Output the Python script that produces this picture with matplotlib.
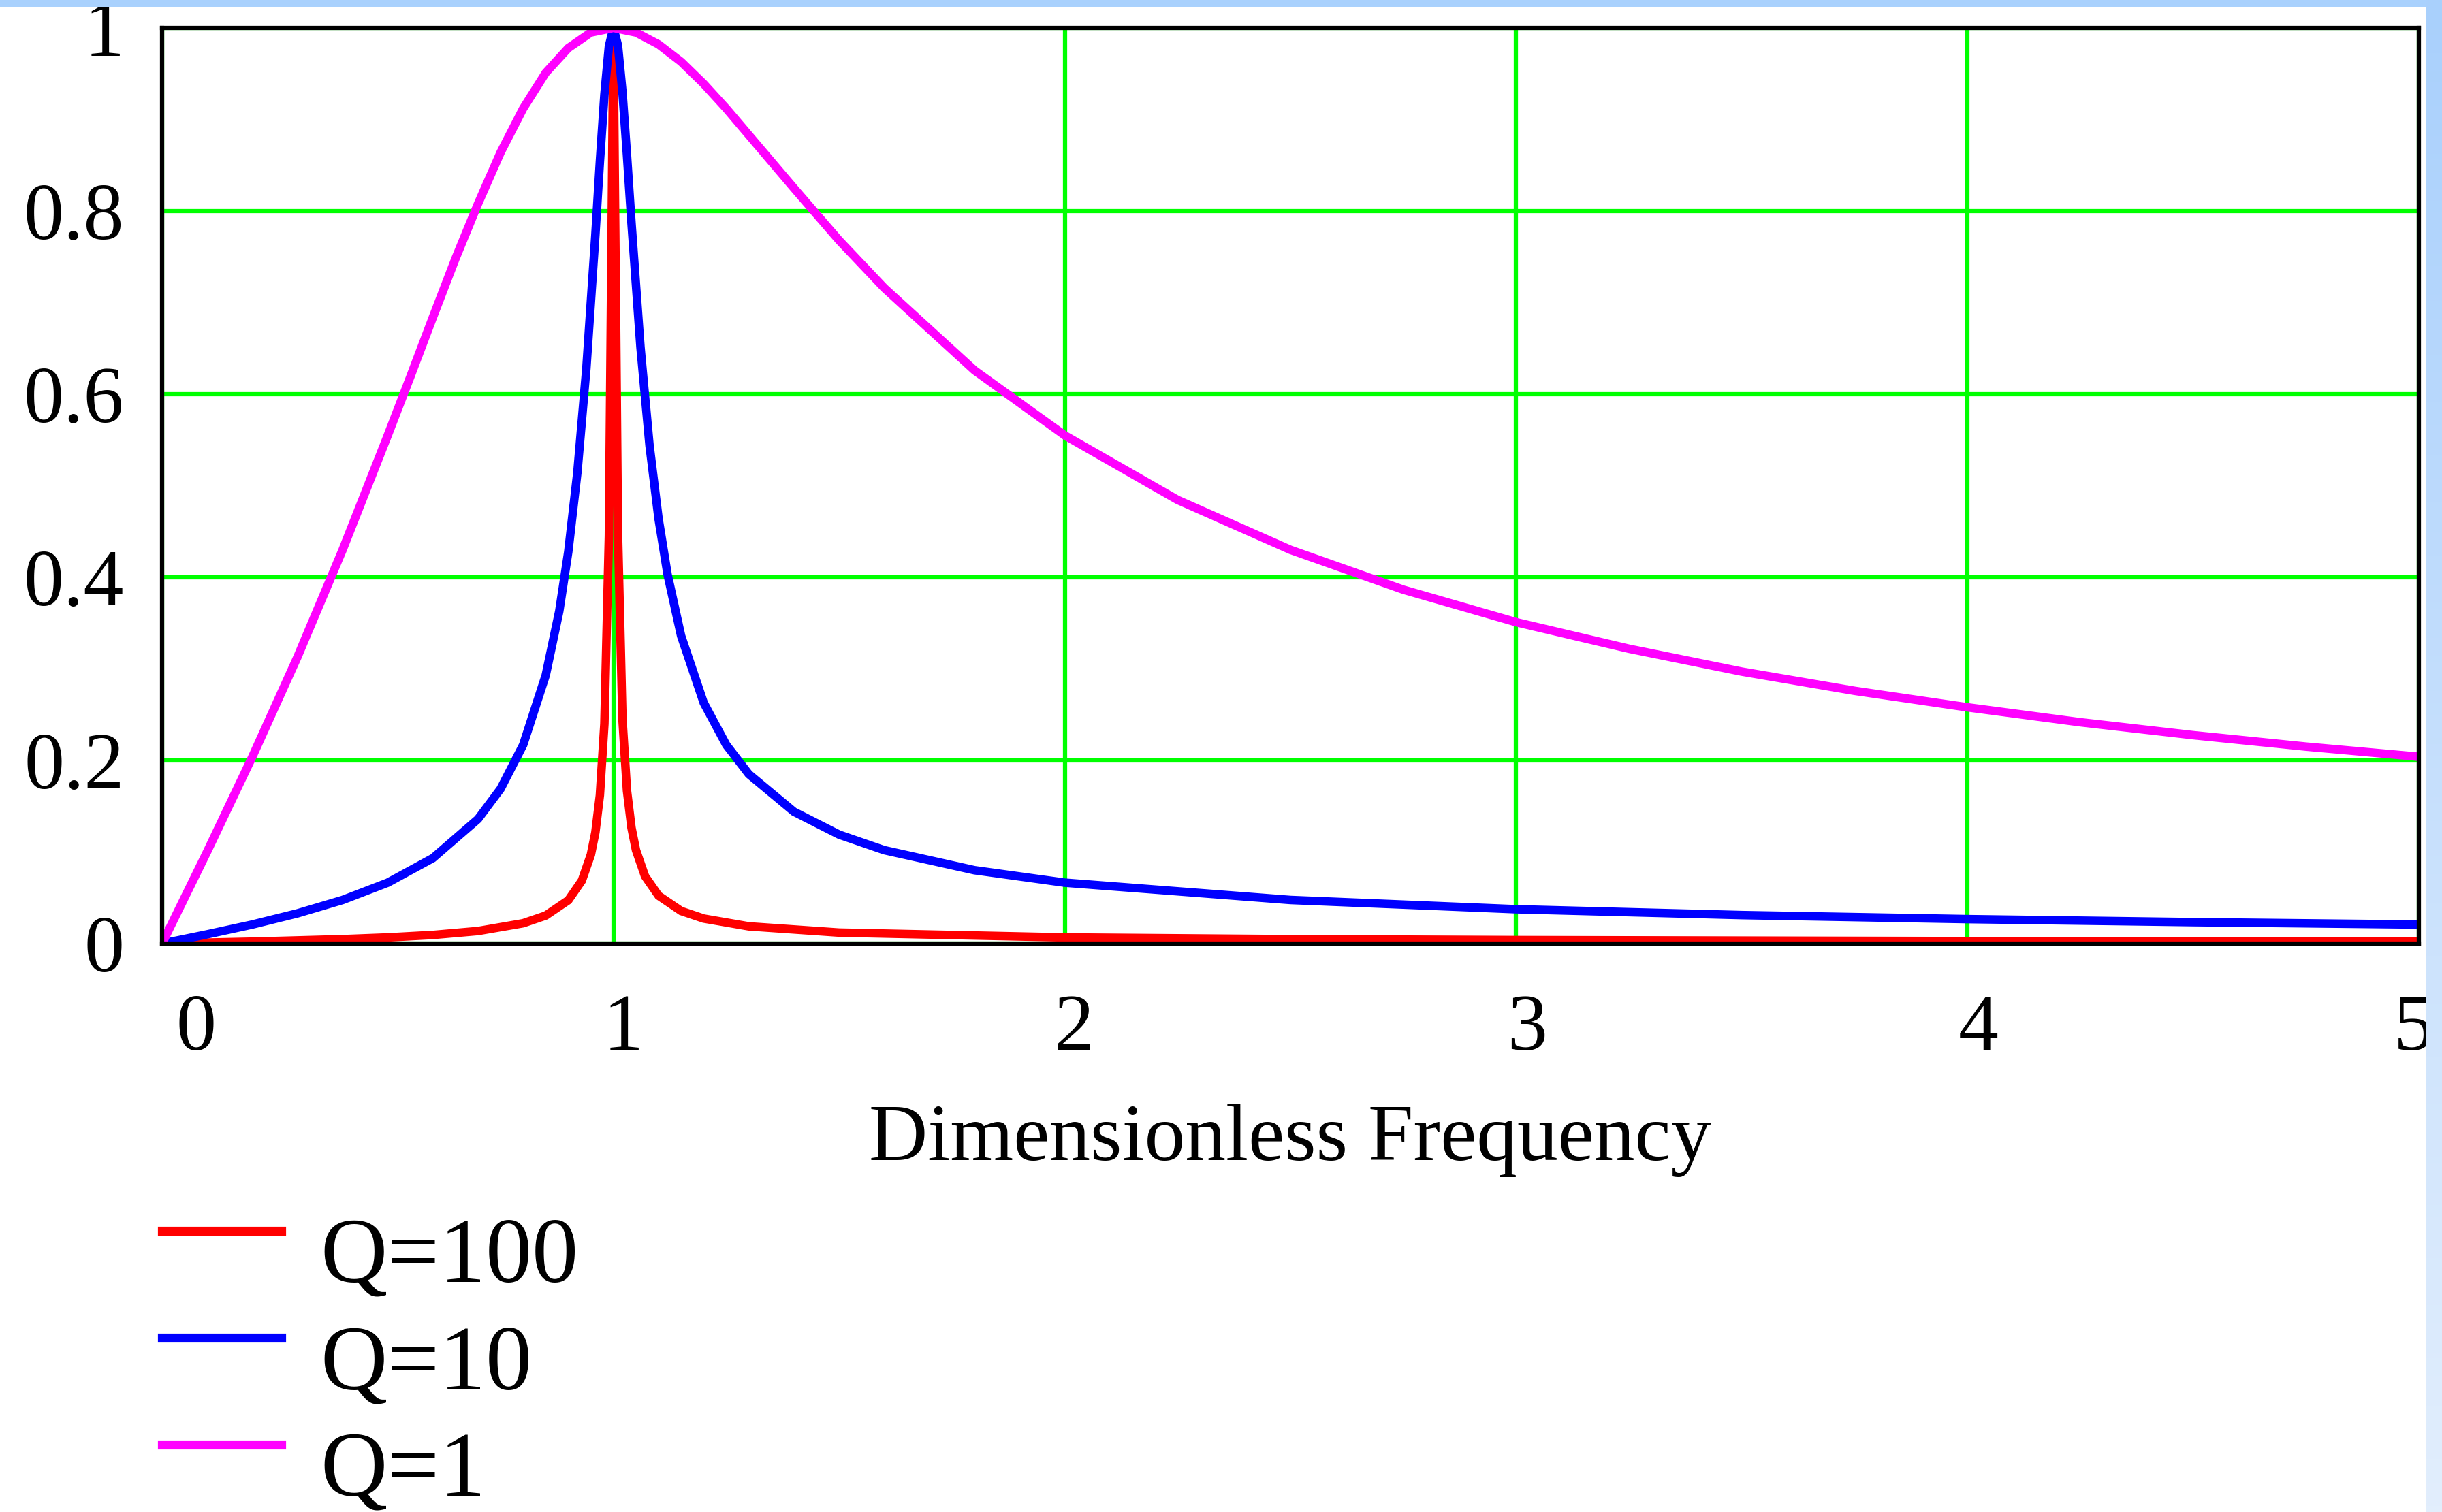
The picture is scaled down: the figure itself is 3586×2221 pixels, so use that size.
import matplotlib
matplotlib.use("Agg")
import matplotlib.pyplot as plt
import numpy as np
from matplotlib.lines import Line2D

plt.rcParams['font.family'] = ['Liberation Serif', 'DejaVu Serif']

# Resonance curves, amplitude vs dimensionless frequency
freq_q100 = [0, 0.2, 0.4, 0.5, 0.6, 0.7, 0.8, 0.85, 0.9, 0.93, 0.95, 0.96, 0.97,
             0.98, 0.99, 1.0, 1.01, 1.02, 1.03, 1.04, 1.05, 1.07, 1.1, 1.15, 1.2,
             1.3, 1.5, 2.0, 2.5, 3.0, 4.0, 5.0]
amp_q100 = [0, 0.0021, 0.0048, 0.0067, 0.0094, 0.0137, 0.0222, 0.0306, 0.0473,
            0.0687, 0.097, 0.1215, 0.162, 0.240, 0.445, 1.0, 0.449, 0.245, 0.167,
            0.1265, 0.102, 0.0736, 0.0523, 0.0356, 0.0273, 0.0188, 0.012, 0.0067,
            0.0048, 0.0038, 0.0027, 0.0021]

freq_q10 = [0, 0.1, 0.2, 0.3, 0.4, 0.5, 0.6, 0.7, 0.75, 0.8, 0.85, 0.88, 0.9,
            0.92, 0.94, 0.96, 0.97, 0.98, 0.99, 1.0, 1.01, 1.02, 1.03, 1.04, 1.06,
            1.08, 1.1, 1.12, 1.15, 1.2, 1.25, 1.3, 1.4, 1.5, 1.6, 1.8, 2.0, 2.5,
            3.0, 3.5, 4.0, 4.5, 5.0]
amp_q10 = [0, 0.0101, 0.0208, 0.033, 0.0476, 0.0665, 0.0933, 0.136, 0.169, 0.217,
           0.293, 0.363, 0.428, 0.514, 0.628, 0.774, 0.854, 0.927, 0.980, 1.0,
           0.981, 0.930, 0.861, 0.787, 0.651, 0.544, 0.464, 0.403, 0.336, 0.263,
           0.217, 0.185, 0.144, 0.119, 0.102, 0.0801, 0.0665, 0.0476, 0.0375,
           0.0311, 0.0267, 0.0234, 0.0208]

freq_q1 = [0, 0.1, 0.2, 0.3, 0.4, 0.5, 0.55, 0.6, 0.65, 0.7, 0.75, 0.8, 0.85,
           0.9, 0.95, 1.0, 1.05, 1.1, 1.15, 1.2, 1.25, 1.3, 1.4, 1.5, 1.6, 1.8,
           2.0, 2.25, 2.5, 2.75, 3.0, 3.25, 3.5, 3.75, 4.0, 4.25, 4.5, 4.75, 5.0]
amp_q1 = [0, 0.1005, 0.204, 0.313, 0.430, 0.555, 0.619, 0.684, 0.748, 0.808,
          0.864, 0.912, 0.951, 0.978, 0.995, 1.0, 0.995, 0.982, 0.963, 0.939,
          0.912, 0.883, 0.825, 0.768, 0.716, 0.626, 0.555, 0.4845, 0.430, 0.3865,
          0.351, 0.322, 0.297, 0.276, 0.258, 0.2417, 0.2276, 0.2151, 0.204]

labels = ['Q=100', 'Q=10', 'Q=1']
colors = ['#ff0000', '#0000ff', '#ff00ff']

xticks = [0, 1, 2, 3, 4, 5]
xtick_labels = ['0', '1', '2', '3', '4', '5']
yticks = [0, 0.2, 0.4, 0.6, 0.8, 1]
ytick_labels = ['0', '0.2', '0.4', '0.6', '0.8', '1']

W, H = 3586, 2221
fig = plt.figure(figsize=(W / 100, H / 100), dpi=100)
fig.patch.set_facecolor('white')

ax = fig.add_axes([238 / W, 1 - 1386 / H, (3552 - 238) / W, (1386 - 41) / H])

series = [(freq_q100, amp_q100), (freq_q10, amp_q10), (freq_q1, amp_q1)]
for (fx, fy), c, lab in zip(series, colors, labels):
    ax.plot(fx, fy, color=c, lw=9, label=lab, solid_joinstyle='miter')

ax.set_xlim(0, 5)
ax.set_ylim(0, 1)
ax.set_xticks(xticks)
ax.set_xticklabels([])
ax.set_yticks(yticks)
ax.set_yticklabels(ytick_labels)
ax.grid(True, color='#00ff00', lw=4.5)
ax.set_axisbelow(True)
ax.tick_params(length=0)
ax.tick_params(axis='y', labelsize=85, pad=40)
for sp in ax.spines.values():
    sp.set_linewidth(4.5)
    sp.set_color('black')

# x tick labels, nudged right the way the old worksheet draws them
x_shift = [50, 14, 14, 16, 16, -8]
for xv, txt, dx in zip(xticks, xtick_labels, x_shift):
    px = 238 + xv * (3552 - 238) / 5 + dx
    fig.text(px / W, 1 - 1542 / H, txt, fontsize=85, ha='center', va='baseline')

fig.text(((238 + 3552) / 2) / W, 1 - 1704 / H, 'Dimensionless Frequency',
         fontsize=86, ha='center', va='baseline')

# legend block under the plot
leg_line_y = [1808, 1965, 2122]
for lab, c, ly in zip(labels, colors, leg_line_y):
    fig.add_artist(Line2D([238 / W, 413 / W], [1 - ly / H, 1 - ly / H],
                          color=c, lw=9.5, transform=fig.transFigure))
    fig.text(470 / W, 1 - (ly + 75) / H, lab, fontsize=98, ha='left', va='baseline')

# light blue frame strips along top and right edge
top_strip = fig.add_axes([0, 1 - 11 / H, 1, 11 / H], zorder=10)
top_strip.imshow([[[169, 209, 253]]], aspect='auto', extent=[0, 1, 0, 1])
top_strip.axis('off')

grad = np.linspace(0, 1, 256)[:, None]
top_c = np.array([169, 208, 252]) / 255
bot_c = np.array([226, 238, 252]) / 255
img = top_c[None, None, :] * (1 - grad[:, :, None]) + bot_c[None, None, :] * grad[:, :, None]
side_strip = fig.add_axes([3562 / W, 0, 24 / W, 1], zorder=10)
side_strip.imshow(img, aspect='auto', extent=[0, 1, 0, 1])
side_strip.axis('off')

fig.savefig('out.png', dpi=100)
